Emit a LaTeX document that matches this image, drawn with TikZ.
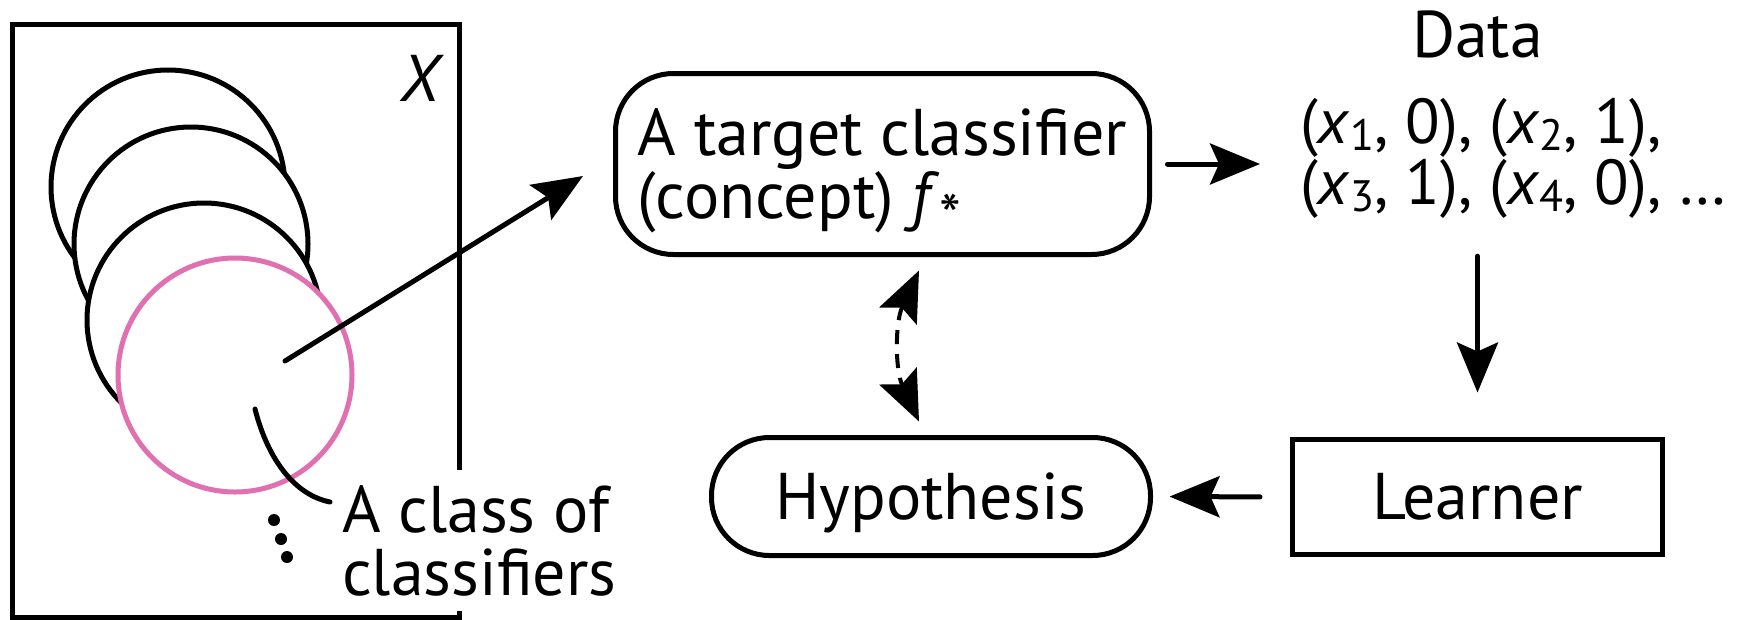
\documentclass[tikz,border=0pt]{standalone}
\usepackage{fontspec}
\setmainfont{PT Sans}
\usetikzlibrary{arrows.meta,calc}
\definecolor{pinkc}{HTML}{E070AF}
\newcommand{\sbs}[1]{\raisebox{-7pt}{\fontsize{44}{44}\selectfont #1}}
\newcommand{\starsub}{\raisebox{-20pt}{\fontsize{62}{62}\selectfont *}}
\tikzset{
  ln/.style={line width=5pt, line cap=round},
  arr/.style={line width=5pt, line cap=round, -{Stealth[length=50pt,width=41pt,inset=9pt]}},
  dasharr/.style={line width=4pt, dash pattern=on 14pt off 10pt, {Stealth[length=50pt,width=41pt,inset=9pt]}-{Stealth[length=50pt,width=41pt,inset=9pt]}},
  circ/.style={line width=5pt, fill=white, draw=black},
  lbl/.style={font=\fontsize{66}{63}\selectfont, inner sep=0pt},
  rbox/.style={draw, line width=5pt, rounded corners=58pt, lbl},
  sbox/.style={draw, line width=5pt, lbl},
}
\begin{document}
\begin{tikzpicture}[x=1pt,y=-1pt]
\useasboundingbox (0,0) rectangle (1737,619);
% frame of X
\draw[line width=5pt, line join=miter] (459.5,470) -- (459.5,24) -- (12,24) -- (12,617) -- (459.5,617) -- (459.5,611);
\node[lbl] (xlab) at (422,78) {\textit{X}};
% circles
\draw[circ] (168,187) circle[radius=117pt];
\draw[circ] (191,244) circle[radius=117pt];
\draw[circ] (204,320) circle[radius=117pt];
\draw[circ, draw=pinkc] (235,375) circle[radius=117pt];
% class label
\node[lbl, anchor=base west, align=left] (cls) at (342,595) {A class of\\classifiers};
\coordinate (cstart) at (255,409);
\coordinate (cend) at (330,502);
\draw[ln] (cstart) .. controls (268,460) and (295,495) .. (cend);
\fill (274,520) circle[radius=6pt];
\fill (281,539) circle[radius=6pt];
\fill (287,557) circle[radius=6pt];
% nodes
\node[rbox, minimum width=534pt, minimum height=181pt, align=left, text depth=0pt] (target) at (882.5,164) {A target classifier\\(concept) \textit{f}\starsub};
\node[lbl, anchor=base] (datat) at (1477.5,57) {Data};
\node[lbl, anchor=base west, align=left, font=\fontsize{63.5}{57}\selectfont] (data) at (1300,204) {(\textit{x}\sbs{1}, 0), (\textit{x}\sbs{2}, 1),\\(\textit{x}\sbs{3}, 1), (\textit{x}\sbs{4}, 0), …};
\node[sbox, minimum width=370pt, minimum height=115pt] (learner) at (1477.5,497) {Learner};
\node[rbox, minimum width=439pt, minimum height=118pt, text depth=0pt] (hyp) at (931,496.5) {Hypothesis};
% connectors
\coordinate (astart) at (285,361);
\coordinate (aend) at (583,176);
\draw[arr] (astart) -- (aend);
\draw[arr, shorten <=15.5pt, shorten >=40pt] (target.east) -- (target.east -| data.west);
\draw[arr, shorten <=38pt, shorten >=44.5pt] (learner.north |- data.south) -- (learner.north);
\draw[arr, shorten <=30pt, shorten >=16.5pt] (learner.west) -- (hyp.east);
\draw[dasharr] ([xshift=36.5pt,yshift=-13.5pt]target.south) .. controls +(-24,52) and +(-24,-52) .. ([xshift=-12pt,yshift=13.5pt]hyp.north);
\end{tikzpicture}
\end{document}
